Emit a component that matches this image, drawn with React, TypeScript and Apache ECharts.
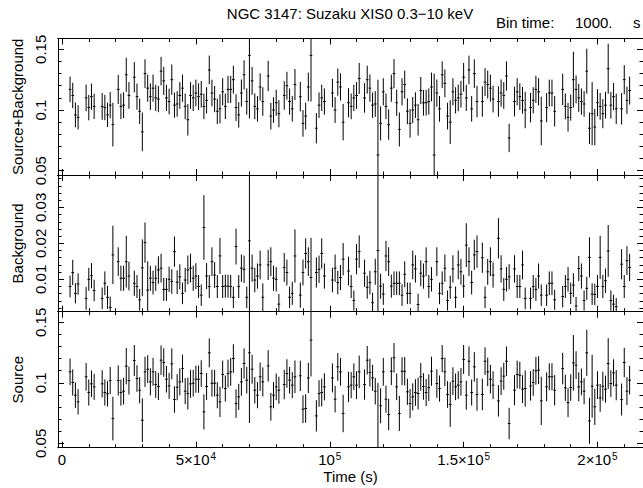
import React, { useEffect, useRef } from "react";
import * as echarts from "echarts";

// ---------------- data ----------------
// bin centre times (s); bin size 1000 s
const binTime = [
  3000, 4000, 5000, 6000,
  9000, 10000, 11000, 12000,
  15000, 16000, 17000, 18000, 19000,
  21000, 22000, 23000, 24000, 25000,
  27000, 28000, 29000, 30000, 31000, 32000, 33000, 34000, 35000, 36000, 37000, 38000, 39000, 40000, 41000, 42000,
  43000, 44000, 45000, 46000, 47000, 48000, 49000, 50000, 51000, 52000, 53000, 54000, 55000, 56000, 57000, 58000,
  59000, 60000, 61000, 62000, 63000, 64000, 65000, 66000, 67000, 68000, 69000, 70000, 71000, 72000, 73000, 74000, 75000,
  77000, 78000, 79000, 80000, 81000,
  83000, 84000, 85000, 86000, 87000,
  89000, 90000, 91000, 92000, 93000,
  95000, 96000, 97000, 98000,
  101000, 102000, 103000, 104000, 105000,
  107000, 108000, 109000, 110000, 111000,
  113000, 114000, 115000, 116000, 117000, 118000, 119000, 120000, 121000, 122000, 123000, 124000, 125000,
  126000, 127000, 128000, 129000, 130000, 131000, 132000, 133000, 134000, 135000, 136000, 137000,
  138000, 139000, 140000, 141000, 142000, 143000, 144000, 145000, 146000, 147000, 148000, 149000, 150000,
  151000, 152000, 153000, 154000, 155000,
  157000, 158000, 159000, 160000, 161000,
  163000, 164000, 165000, 166000, 167000,
  169000, 170000, 171000, 172000, 173000,
  175000, 176000, 177000, 178000, 179000,
  181000, 182000, 183000, 184000,
  187000, 188000, 189000, 190000, 191000, 192000, 193000, 194000, 195000, 196000, 197000, 198000, 199000,
  200000, 201000, 202000, 203000, 204000, 205000, 206000, 207000,
  209000, 210000, 211000, 212000,
];
const binHalfWidth = 500;

// Source+Background rate (counts/s) and 1-sigma errors
const totalRate = [
  0.117, 0.112, 0.096, 0.094,
  0.110, 0.102, 0.111, 0.103,
  0.103, 0.102, 0.096, 0.104, 0.088,
  0.117, 0.103, 0.104, 0.129, 0.112,
  0.127, 0.111, 0.099, 0.082, 0.130, 0.118, 0.111, 0.118, 0.110, 0.109, 0.132, 0.124, 0.110, 0.107, 0.125, 0.104,
  0.105, 0.112, 0.118, 0.103, 0.092, 0.112, 0.110, 0.114, 0.111, 0.113, 0.103, 0.108, 0.133, 0.114, 0.109, 0.099,
  0.101, 0.115, 0.103, 0.117, 0.117, 0.125, 0.102, 0.096, 0.114, 0.129, 0.107, 0.145, 0.124, 0.103, 0.101, 0.119, 0.107,
  0.128, 0.095, 0.100, 0.106, 0.097,
  0.112, 0.120, 0.107, 0.101, 0.121,
  0.111, 0.089, 0.095, 0.119, 0.145,
  0.085, 0.104, 0.110, 0.107,
  0.114, 0.100, 0.123, 0.119, 0.090,
  0.106, 0.103, 0.110, 0.112, 0.126,
  0.110, 0.125, 0.118, 0.104, 0.105, 0.063, 0.089, 0.115, 0.103, 0.088, 0.118, 0.130, 0.106,
  0.084, 0.115, 0.121, 0.099, 0.089, 0.100, 0.104, 0.092, 0.116, 0.106, 0.106, 0.107,
  0.119, 0.063, 0.114, 0.101, 0.129, 0.122, 0.095, 0.090, 0.115, 0.108, 0.110, 0.113, 0.127,
  0.110, 0.133, 0.101, 0.130, 0.107,
  0.107, 0.123, 0.121, 0.118, 0.109,
  0.107, 0.114, 0.112, 0.128, 0.077,
  0.107, 0.115, 0.111, 0.108, 0.100,
  0.102, 0.108, 0.117, 0.115, 0.091,
  0.102, 0.114, 0.114, 0.099,
  0.117, 0.103, 0.094, 0.102, 0.125, 0.117, 0.110, 0.107, 0.105, 0.132, 0.085, 0.097, 0.086,
  0.106, 0.103, 0.097, 0.104, 0.134, 0.104, 0.111, 0.101,
  0.101, 0.125, 0.108, 0.116,
];
const totalErr = [
  0.0105, 0.0104, 0.0102, 0.0100,
  0.0110, 0.0105, 0.0108, 0.0104,
  0.0110, 0.0104, 0.0100, 0.0108, 0.0180,
  0.0120, 0.0105, 0.0106, 0.0140, 0.0110,
  0.0125, 0.0108, 0.0105, 0.0160, 0.0118, 0.0112, 0.0110, 0.0112, 0.0108, 0.0108, 0.0118, 0.0116, 0.0108, 0.0106, 0.0125, 0.0104,
  0.0105, 0.0110, 0.0112, 0.0106, 0.0130, 0.0110, 0.0108, 0.0110, 0.0110, 0.0110, 0.0105, 0.0108, 0.0118, 0.0110, 0.0108, 0.0105,
  0.0120, 0.0112, 0.0105, 0.0112, 0.0112, 0.0115, 0.0110, 0.0105, 0.0112, 0.0120, 0.0108, 0.0520, 0.0115, 0.0106, 0.0105, 0.0112, 0.0118,
  0.0125, 0.0110, 0.0105, 0.0108, 0.0112,
  0.0118, 0.0115, 0.0108, 0.0105, 0.0128,
  0.0122, 0.0110, 0.0110, 0.0118, 0.0380,
  0.0125, 0.0105, 0.0108, 0.0108,
  0.0118, 0.0106, 0.0112, 0.0112, 0.0150,
  0.0120, 0.0106, 0.0108, 0.0110, 0.0128,
  0.0122, 0.0115, 0.0112, 0.0105, 0.0106, 0.0620, 0.0140, 0.0112, 0.0106, 0.0125, 0.0112, 0.0120, 0.0108,
  0.0140, 0.0112, 0.0115, 0.0106, 0.0118, 0.0108, 0.0106, 0.0130, 0.0112, 0.0106, 0.0106, 0.0108,
  0.0118, 0.0670, 0.0112, 0.0106, 0.0110, 0.0115, 0.0110, 0.0180, 0.0112, 0.0108, 0.0110, 0.0110, 0.0118,
  0.0108, 0.0118, 0.0105, 0.0118, 0.0130,
  0.0125, 0.0115, 0.0115, 0.0112, 0.0110,
  0.0125, 0.0112, 0.0110, 0.0120, 0.0117,
  0.0122, 0.0112, 0.0110, 0.0110, 0.0150,
  0.0122, 0.0108, 0.0112, 0.0112, 0.0200,
  0.0120, 0.0110, 0.0110, 0.0125,
  0.0130, 0.0106, 0.0118, 0.0108, 0.0230, 0.0115, 0.0115, 0.0108, 0.0106, 0.0185, 0.0130, 0.0260, 0.0150,
  0.0112, 0.0110, 0.0120, 0.0110, 0.0206, 0.0110, 0.0112, 0.0125,
  0.0130, 0.0120, 0.0112, 0.0115,
];

// Background rate (counts/s) and errors (null: bin absent in this panel)
const bkgRate = [
  0.0080, 0.0119, 0.0061, 0.0087,
  0.0047, 0.0100, 0.0110, 0.0069,
  0.0047, 0.0089, 0.0050, 0.0022, 0.0168,
  0.0149, 0.0103, 0.0103, 0.0149, 0.0109,
  0.0089, 0.0080, 0.0043, 0.0132, 0.0202, 0.0070, 0.0103, 0.0091, 0.0103, 0.0126, 0.0131, 0.0072, 0.0072, 0.0100, 0.0094, 0.0177,
  0.0092, 0.0107, 0.0061, 0.0098, 0.0126, 0.0131, 0.0103, 0.0109, 0.0080, 0.0056, 0.0244, 0.0109, 0.0080, 0.0149, 0.0112, 0.0080,
  0.0165, 0.0080, 0.0081, 0.0081, 0.0080, 0.0050, 0.0191, 0.0080, 0.0131, 0.0128, 0.0050, 0.0207, 0.0131, 0.0098, 0.0109, 0.0140, 0.0050,
  0.0140, 0.0149, 0.0103, 0.0100, 0.0031,
  0.0133, 0.0119, 0.0050, 0.0061, 0.0165,
  0.0056, 0.0119, 0.0172, 0.0149, 0.0105,
  0.0119, 0.0128, 0.0172, 0.0109,
  0.0098, 0.0131, 0.0091, 0.0105, 0.0156,
  0.0123, 0.0080, 0.0041, 0.0156, 0.0177,
  0.0117, 0.0078, 0.0091, 0.0035, 0.0121, 0.0180, 0.0081, 0.0059, 0.0165, 0.0149, 0.0081, 0.0089, 0.0089,
  0.0089, 0.0056, 0.0114, 0.0061, 0.0061, 0.0140, 0.0129, 0.0030, 0.0117, 0.0109, 0.0149, 0.0080,
  0.0100, null, 0.0149, 0.0061, 0.0089, 0.0131, 0.0041, 0.0078, 0.0129, 0.0050, 0.0140, 0.0121, 0.0081,
  0.0195, 0.0149, 0.0091, 0.0168, 0.0177,
  0.0160, 0.0050, 0.0121, 0.0149, 0.0112,
  0.0214, 0.0129, 0.0072, 0.0100, 0.0107,
  0.0129, 0.0080, 0.0080, 0.0140, 0.0047,
  0.0047, 0.0080, 0.0072, 0.0109, 0.0056,
  0.0056, 0.0089, 0.0089, 0.0043,
  0.0052, 0.0080, 0.0100, 0.0061, 0.0084, 0.0026, 0.0130, 0.0109, 0.0041, 0.0075, 0.0161, 0.0059, 0.0058,
  0.0080, 0.0161, 0.0080, 0.0096, 0.0179, 0.0041, 0.0031, 0.0024,
  0.0142, 0.0080, 0.0152, 0.0133,
];
const bkgErr = [
  0.0030, 0.0035, 0.0028, 0.0030,
  0.0032, 0.0032, 0.0035, 0.0030,
  0.0030, 0.0033, 0.0032, 0.0030, 0.0081,
  0.0040, 0.0035, 0.0035, 0.0072, 0.0040,
  0.0035, 0.0032, 0.0030, 0.0079, 0.0056, 0.0080, 0.0035, 0.0033, 0.0035, 0.0038, 0.0040, 0.0032, 0.0032, 0.0035, 0.0034, 0.0042,
  0.0033, 0.0035, 0.0030, 0.0034, 0.0040, 0.0040, 0.0035, 0.0036, 0.0032, 0.0030, 0.0090, 0.0036, 0.0032, 0.0040, 0.0036, 0.0032,
  0.0050, 0.0032, 0.0032, 0.0032, 0.0032, 0.0030, 0.0050, 0.0032, 0.0038, 0.0038, 0.0030, 0.0300, 0.0038, 0.0034, 0.0035, 0.0040, 0.0039,
  0.0042, 0.0040, 0.0035, 0.0034, 0.0028,
  0.0040, 0.0036, 0.0030, 0.0032, 0.0074,
  0.0035, 0.0036, 0.0042, 0.0040, 0.0110,
  0.0042, 0.0038, 0.0042, 0.0035,
  0.0034, 0.0038, 0.0033, 0.0035, 0.0045,
  0.0040, 0.0032, 0.0028, 0.0042, 0.0045,
  0.0038, 0.0032, 0.0033, 0.0028, 0.0036, 0.0300, 0.0035, 0.0030, 0.0042, 0.0040, 0.0032, 0.0033, 0.0033,
  0.0033, 0.0030, 0.0036, 0.0030, 0.0030, 0.0040, 0.0038, 0.0030, 0.0036, 0.0035, 0.0040, 0.0032,
  0.0034, null, 0.0040, 0.0030, 0.0033, 0.0038, 0.0028, 0.0032, 0.0038, 0.0030, 0.0040, 0.0036, 0.0032,
  0.0061, 0.0040, 0.0033, 0.0042, 0.0045,
  0.0042, 0.0030, 0.0036, 0.0040, 0.0035,
  0.0056, 0.0038, 0.0032, 0.0034, 0.0035,
  0.0038, 0.0032, 0.0032, 0.0040, 0.0030,
  0.0030, 0.0032, 0.0032, 0.0035, 0.0030,
  0.0030, 0.0033, 0.0033, 0.0028,
  0.0030, 0.0032, 0.0034, 0.0030, 0.0033, 0.0025, 0.0035, 0.0035, 0.0028, 0.0032, 0.0056, 0.0030, 0.0030,
  0.0032, 0.0060, 0.0032, 0.0034, 0.0072, 0.0028, 0.0026, 0.0024,
  0.0042, 0.0032, 0.0040, 0.0038,
];

// Source (background-subtracted) rate and errors
const srcRate = [
  0.1091, 0.1003, 0.0898, 0.0843,
  0.1050, 0.0920, 0.0992, 0.0967,
  0.0992, 0.0920, 0.0909, 0.1019, 0.0705,
  0.1019, 0.0920, 0.0931, 0.1138, 0.1019,
  0.1185, 0.1036, 0.0939, 0.0691, 0.1091, 0.1113, 0.1008, 0.1091, 0.0986, 0.0970, 0.1187, 0.1168, 0.1030, 0.0975, 0.1157, 0.0862,
  0.0964, 0.1008, 0.1118, 0.0931, 0.0912, 0.0992, 0.0997, 0.1030, 0.1030, 0.1077, 0.0760, 0.0970, 0.1248, 0.0997, 0.0997, 0.0898,
  0.0843, 0.1069, 0.0953, 0.1077, 0.1091, 0.1201, 0.0829, 0.0884, 0.1008, 0.1160, 0.1022, 0.1248, 0.1113, 0.0939, 0.0898, 0.1050, 0.1008,
  0.1140, 0.0802, 0.0898, 0.0967, 0.0939,
  0.0986, 0.1077, 0.1022, 0.0981, 0.1050,
  0.1058, 0.0782, 0.0788, 0.1041, 0.1353,
  0.0727, 0.0912, 0.0920, 0.0967,
  0.1041, 0.0865, 0.1132, 0.1091, 0.0747,
  0.0967, 0.0981, 0.1050, 0.0981, 0.1091,
  0.0986, 0.1187, 0.1085, 0.1041, 0.0931, 0.0450, 0.0810, 0.1091, 0.0865, 0.0738, 0.1096, 0.1207, 0.0967,
  0.0747, 0.1096, 0.1096, 0.0926, 0.0829, 0.0884, 0.0920, 0.0912, 0.1050, 0.0970, 0.0920, 0.0960,
  0.1096, null, 0.0994, 0.0953, 0.1201, 0.1091, 0.0904, 0.0821, 0.1014, 0.0967, 0.0981, 0.1008, 0.1193,
  0.0898, 0.1179, 0.0920, 0.1132, 0.0904,
  0.0904, 0.1179, 0.1091, 0.1030, 0.0981,
  0.0851, 0.1014, 0.1055, 0.1179, 0.0664,
  0.0939, 0.1069, 0.1063, 0.0948, 0.0953,
  0.0975, 0.1003, 0.1099, 0.1105, 0.0851,
  0.0967, 0.1050, 0.1050, 0.0939,
  0.1118, 0.0959, 0.0837, 0.0961, 0.1165, 0.1146, 0.0967, 0.1008, 0.0931, 0.1248, 0.0686, 0.0972, 0.0802,
  0.0981, 0.0876, 0.0972, 0.0948, 0.1160, 0.0994, 0.1083, 0.0981,
  0.0862, 0.1168, 0.0931, 0.1022,
];
const srcErr = [
  0.0110, 0.0108, 0.0105, 0.0105,
  0.0115, 0.0108, 0.0110, 0.0108,
  0.0112, 0.0108, 0.0105, 0.0112, 0.0180,
  0.0125, 0.0108, 0.0110, 0.0150, 0.0115,
  0.0128, 0.0110, 0.0108, 0.0180, 0.0125, 0.0115, 0.0112, 0.0115, 0.0110, 0.0112, 0.0122, 0.0118, 0.0110, 0.0108, 0.0128, 0.0110,
  0.0108, 0.0112, 0.0115, 0.0108, 0.0132, 0.0115, 0.0110, 0.0112, 0.0112, 0.0110, 0.0145, 0.0112, 0.0120, 0.0112, 0.0110, 0.0108,
  0.0125, 0.0115, 0.0108, 0.0115, 0.0115, 0.0118, 0.0118, 0.0108, 0.0115, 0.0125, 0.0110, 0.0580, 0.0120, 0.0110, 0.0108, 0.0118, 0.0120,
  0.0130, 0.0115, 0.0108, 0.0110, 0.0112,
  0.0122, 0.0118, 0.0110, 0.0108, 0.0135,
  0.0125, 0.0115, 0.0118, 0.0125, 0.0300,
  0.0130, 0.0110, 0.0115, 0.0112,
  0.0120, 0.0110, 0.0115, 0.0115, 0.0155,
  0.0125, 0.0108, 0.0110, 0.0115, 0.0135,
  0.0125, 0.0118, 0.0115, 0.0108, 0.0110, 0.0550, 0.0145, 0.0115, 0.0112, 0.0130, 0.0115, 0.0122, 0.0110,
  0.0145, 0.0115, 0.0118, 0.0108, 0.0120, 0.0112, 0.0110, 0.0132, 0.0115, 0.0110, 0.0112, 0.0110,
  0.0120, null, 0.0118, 0.0108, 0.0112, 0.0118, 0.0110, 0.0185, 0.0115, 0.0110, 0.0115, 0.0114, 0.0120,
  0.0120, 0.0122, 0.0108, 0.0122, 0.0135,
  0.0130, 0.0115, 0.0118, 0.0118, 0.0115,
  0.0130, 0.0115, 0.0112, 0.0122, 0.0130,
  0.0125, 0.0115, 0.0112, 0.0115, 0.0150,
  0.0122, 0.0110, 0.0115, 0.0115, 0.0200,
  0.0120, 0.0112, 0.0112, 0.0125,
  0.0130, 0.0108, 0.0120, 0.0110, 0.0230, 0.0115, 0.0120, 0.0110, 0.0108, 0.0190, 0.0190, 0.0260, 0.0150,
  0.0115, 0.0115, 0.0120, 0.0112, 0.0210, 0.0110, 0.0112, 0.0125,
  0.0132, 0.0122, 0.0115, 0.0118,
];

// axis ticks and labels
const xMajorTicks = [0, 50000, 100000, 150000, 200000];
const xTickMantissa = ["0", "5×10", "10", "1.5×10", "2×10"];
const xTickExponent = ["", "4", "5", "5", "5"];
const xMinorTicks = [
  0, 10000, 20000, 30000, 40000, 50000, 60000, 70000, 80000, 90000, 100000, 110000,
  120000, 130000, 140000, 150000, 160000, 170000, 180000, 190000, 200000, 210000,
];
const rateMajorTicks = [0.05, 0.1, 0.15];
const rateMinorTicks = [0.05, 0.06, 0.07, 0.08, 0.09, 0.1, 0.11, 0.12, 0.13, 0.14, 0.15];
const bkgMajorTicks = [0.01, 0.02, 0.03];
const bkgMinorTicks = [
  0.002, 0.004, 0.006, 0.008, 0.01, 0.012, 0.014, 0.016, 0.018, 0.02,
  0.022, 0.024, 0.026, 0.028, 0.03, 0.032, 0.034, 0.036, 0.038,
];

const titleText = "NGC 3147: Suzaku XIS0 0.3\u221210 keV";
const binLabel = "Bin time:";
const binValue = "1000.";
const binUnit = "s";
const xAxisTitle = "Time (s)";

// ---------------- layout / style ----------------
const FONT = "'Liberation Sans', Arial, Helvetica, sans-serif";
const BLACK = "#000000";
const PLOT_LEFT = 58;
const PLOT_WIDTH = 585;
const X_MIN = -1500;
const X_MAX = 217000;

const panels = [
  { name: "Source+Background", rate: totalRate, err: totalErr, top: 38.5, height: 136.5, min: 0.0465, max: 0.1589, major: rateMajorTicks, minor: rateMinorTicks },
  { name: "Background", rate: bkgRate, err: bkgErr, top: 175, height: 136.7, min: 0.001, max: 0.039, major: bkgMajorTicks, minor: bkgMinorTicks },
  { name: "Source", rate: srcRate, err: srcErr, top: 311.7, height: 136, min: 0.0464, max: 0.1588, major: rateMajorTicks, minor: rateMinorTicks },
];

function renderErrorBar(_params: any, api: any) {
  const t = api.value(0);
  const v = api.value(1);
  const e = api.value(2);
  const c = api.coord([t, v]);
  const hi = api.coord([t, v + e]);
  const lo = api.coord([t, v - e]);
  const l = api.coord([t - binHalfWidth, v]);
  const r = api.coord([t + binHalfWidth, v]);
  return {
    type: "group",
    children: [
      { type: "line", shape: { x1: c[0], y1: hi[1], x2: c[0], y2: lo[1] }, style: { stroke: BLACK, lineWidth: 1 } },
      { type: "line", shape: { x1: l[0], y1: c[1], x2: r[0], y2: c[1] }, style: { stroke: BLACK, lineWidth: 1 } },
    ],
  };
}

function xLabelFormatter(v: number) {
  const i = xMajorTicks.findIndex((m) => Math.abs(m - v) < 1);
  if (i < 0) return "";
  const m = xTickMantissa[i];
  const ex = xTickExponent[i];
  return ex ? `{b|${m}}{s|${ex}}` : `{b|${m}}`;
}

function buildOption() {
  const grid: any[] = [];
  const xAxis: any[] = [];
  const yAxis: any[] = [];
  const series: any[] = [];

  panels.forEach((p, g) => {
    const isBottom = g === panels.length - 1;
    grid.push({
      left: PLOT_LEFT,
      width: PLOT_WIDTH,
      top: p.top,
      height: p.height,
      containLabel: false,
      outerBoundsMode: "none",
      show: false,
    });

    const axisLine = { show: true, onZero: false, lineStyle: { color: BLACK, width: 1 } };
    const mkX = (position: string, ticks: number[], len: number, labels: boolean) => ({
      type: "value",
      gridIndex: g,
      position,
      min: X_MIN,
      max: X_MAX,
      axisLine,
      axisTick: { show: true, inside: true, length: len, customValues: ticks, lineStyle: { color: BLACK, width: 1 } },
      axisLabel: labels
        ? {
            show: true,
            customValues: xMajorTicks,
            formatter: xLabelFormatter,
            margin: 4,
            color: BLACK,
            fontFamily: FONT,
            fontSize: 15,
            rich: {
              b: { fontFamily: FONT, fontSize: 15, color: BLACK },
              s: { fontFamily: FONT, fontSize: 10, color: BLACK, verticalAlign: "top", padding: [0, 0, 0, 1] },
            },
          }
        : { show: false },
      splitLine: { show: false },
      minorTick: { show: false },
      name: labels ? xAxisTitle : "",
      nameLocation: "middle",
      nameGap: 21,
      nameTextStyle: { fontFamily: FONT, fontSize: 15, color: BLACK },
    });
    xAxis.push(mkX("bottom", xMajorTicks, 6, isBottom));
    xAxis.push(mkX("bottom", xMinorTicks, 3.5, false));
    xAxis.push(mkX("top", xMajorTicks, 6, false));
    xAxis.push(mkX("top", xMinorTicks, 3.5, false));

    const mkY = (position: string, ticks: number[], len: number, labels: boolean) => ({
      type: "value",
      gridIndex: g,
      position,
      min: p.min,
      max: p.max,
      axisLine,
      axisTick: { show: true, inside: true, length: len, customValues: ticks, lineStyle: { color: BLACK, width: 1 } },
      axisLabel: labels
        ? {
            show: true,
            customValues: p.major,
            rotate: 90,
            margin: 10,
            color: BLACK,
            fontFamily: FONT,
            fontSize: 15,
          }
        : { show: false },
      splitLine: { show: false },
      minorTick: { show: false },
      name: labels ? p.name : "",
      nameLocation: "middle",
      nameRotate: 90,
      nameGap: 32,
      nameTextStyle: { fontFamily: FONT, fontSize: 15, color: BLACK },
    });
    yAxis.push(mkY("left", p.major, 6, true));
    yAxis.push(mkY("left", p.minor, 3.5, false));
    yAxis.push(mkY("right", p.major, 6, false));
    yAxis.push(mkY("right", p.minor, 3.5, false));

    const data: any[] = [];
    binTime.forEach((t, i) => {
      const v = p.rate[i];
      const e = p.err[i];
      if (v !== null && v !== undefined && e !== null && e !== undefined) data.push([t, v, e]);
    });
    series.push({
      type: "custom",
      name: p.name,
      xAxisIndex: g * 4,
      yAxisIndex: g * 4,
      data,
      encode: { x: 0, y: 1 },
      renderItem: renderErrorBar,
      clip: true,
      silent: true,
      animation: false,
    });
  });

  const txt = (text: string, x: number, y: number, align: string) => ({
    type: "text",
    x,
    y,
    silent: true,
    style: {
      text,
      fill: BLACK,
      fontFamily: FONT,
      fontSize: 15,
      textAlign: align,
      align,
      textVerticalAlign: "middle",
      verticalAlign: "middle",
    },
  });

  return {
    animation: false,
    backgroundColor: "#ffffff",
    textStyle: { fontFamily: FONT, color: BLACK },
    grid,
    xAxis,
    yAxis,
    series,
    graphic: [
      txt(titleText, 350, 13, "center"),
      txt(binLabel, 496, 22, "left"),
      txt(binValue, 575, 22, "left"),
      txt(binUnit, 633, 22, "left"),
    ],
  };
}

export default function App() {
  const ref = useRef<HTMLDivElement>(null);
  useEffect(() => {
    if (!ref.current) return;
    const chart = echarts.init(ref.current, null, { renderer: "svg" });
    chart.setOption(buildOption() as any);
    return () => chart.dispose();
  }, []);
  return (
    <div
      ref={ref}
      style={{ position: "fixed", left: 0, top: 0, width: 643, height: 488, background: "#ffffff" }}
    />
  );
}
